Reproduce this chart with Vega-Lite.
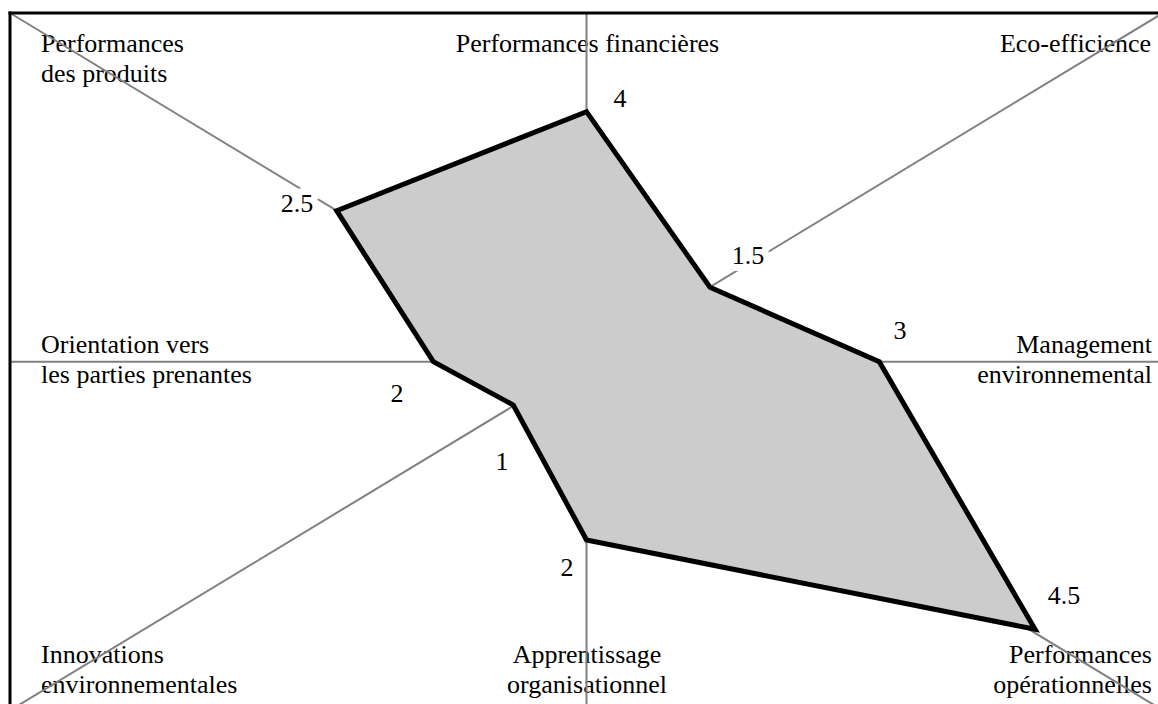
{
  "$schema": "https://vega.github.io/schema/vega-lite/v6.json",
  "width": 1148,
  "height": 691,
  "autosize": {"type": "none"},
  "padding": {"left": 10, "top": 13, "right": 0, "bottom": 0},
  "background": "white",
  "config": {"view": {"stroke": null}},
  "datasets": {
    "axes": [
      {"axe": "vertical", "x": 0, "y": 1, "x2": 0, "y2": -1},
      {"axe": "horizontal", "x": -1, "y": 0, "x2": 1, "y2": 0},
      {"axe": "diagonale 1", "x": -1, "y": 1, "x2": 1, "y2": -1},
      {"axe": "diagonale 2", "x": -1, "y": -1, "x2": 1, "y2": 1}
    ],
    "cadre": [
      {"bord": "haut", "x": -1, "y": 1, "x2": 1, "y2": 1},
      {"bord": "gauche", "x": -1, "y": 1, "x2": -1, "y2": -1}
    ],
    "scores": [
      {"ordre": 1, "axe": "Performances des produits", "valeur": "2.5", "x": -0.4333, "y": 0.4330, "lx": -0.5022, "ly": 0.4293},
      {"ordre": 2, "axe": "Performances financières", "valeur": "4", "x": 0, "y": 0.7170, "lx": 0.0581, "ly": 0.7304},
      {"ordre": 3, "axe": "Eco-efficience", "valeur": "1.5", "x": 0.2142, "y": 0.2134, "lx": 0.2801, "ly": 0.2802},
      {"ordre": 4, "axe": "Management environnemental", "valeur": "3", "x": 0.5079, "y": 0, "lx": 0.5438, "ly": 0.0651},
      {"ordre": 5, "axe": "Performances opérationnelles", "valeur": "4.5", "x": 0.7780, "y": -0.7674, "lx": 0.8283, "ly": -0.6950},
      {"ordre": 6, "axe": "Apprentissage organisationnel", "valeur": "2", "x": 0, "y": -0.5113, "lx": -0.0338, "ly": -0.6146},
      {"ordre": 7, "axe": "Innovations environnementales", "valeur": "1", "x": -0.1270, "y": -0.1242, "lx": -0.1466, "ly": -0.3106},
      {"ordre": 8, "axe": "Orientation vers les parties prenantes", "valeur": "2", "x": -0.2657, "y": 0, "lx": -0.3287, "ly": -0.1156}
    ],
    "libelles": [
      {"texte": "Performances\ndes produits", "colonne": "gauche", "x": -0.9462, "y": 0.8882},
      {"texte": "Performances financières", "colonne": "centre", "x": 0.0017, "y": 0.8882},
      {"texte": "Eco-efficience", "colonne": "droite", "x": 0.9792, "y": 0.8882},
      {"texte": "Orientation vers\nles parties prenantes", "colonne": "gauche", "x": -0.9462, "y": 0.0249},
      {"texte": "Management\nenvironnemental", "colonne": "droite", "x": 0.9809, "y": 0.0249},
      {"texte": "Innovations\nenvironnementales", "colonne": "gauche", "x": -0.9462, "y": -0.8641},
      {"texte": "Apprentissage\norganisationnel", "colonne": "centre", "x": 0.0009, "y": -0.8641},
      {"texte": "Performances\nopérationnelles", "colonne": "droite", "x": 0.9809, "y": -0.8641}
    ]
  },
  "encoding": {
    "x": {"type": "quantitative", "scale": {"domain": [-1, 0.99133], "nice": false, "zero": false}, "axis": null},
    "y": {"type": "quantitative", "scale": {"domain": [-0.98165, 1], "nice": false, "zero": false}, "axis": null}
  },
  "layer": [
    {
      "data": {"name": "libelles"},
      "transform": [{"filter": "datum.colonne === 'gauche'"}],
      "mark": {"type": "text", "align": "left", "baseline": "alphabetic", "font": "Liberation Serif", "fontSize": 26, "lineHeight": 30, "lineBreak": "\n", "color": "black"},
      "encoding": {"x": {"field": "x", "type": "quantitative"}, "y": {"field": "y", "type": "quantitative"}, "text": {"field": "texte"}}
    },
    {
      "data": {"name": "libelles"},
      "transform": [{"filter": "datum.colonne === 'centre'"}],
      "mark": {"type": "text", "align": "center", "baseline": "alphabetic", "font": "Liberation Serif", "fontSize": 26, "lineHeight": 30, "lineBreak": "\n", "color": "black"},
      "encoding": {"x": {"field": "x", "type": "quantitative"}, "y": {"field": "y", "type": "quantitative"}, "text": {"field": "texte"}}
    },
    {
      "data": {"name": "libelles"},
      "transform": [{"filter": "datum.colonne === 'droite'"}],
      "mark": {"type": "text", "align": "right", "baseline": "alphabetic", "font": "Liberation Serif", "fontSize": 26, "lineHeight": 30, "lineBreak": "\n", "color": "black"},
      "encoding": {"x": {"field": "x", "type": "quantitative"}, "y": {"field": "y", "type": "quantitative"}, "text": {"field": "texte"}}
    },
    {
      "data": {"name": "axes"},
      "mark": {"type": "rule", "color": "#808080", "strokeWidth": 2},
      "encoding": {
        "x": {"field": "x", "type": "quantitative"},
        "y": {"field": "y", "type": "quantitative"},
        "x2": {"field": "x2"},
        "y2": {"field": "y2"}
      }
    },
    {
      "data": {"name": "cadre"},
      "mark": {"type": "rule", "color": "black", "strokeWidth": 3, "strokeCap": "square"},
      "encoding": {
        "x": {"field": "x", "type": "quantitative"},
        "y": {"field": "y", "type": "quantitative"},
        "x2": {"field": "x2"},
        "y2": {"field": "y2"}
      }
    },
    {
      "data": {"name": "scores"},
      "mark": {"type": "line", "interpolate": "linear-closed", "fill": "#cccccc", "stroke": "black", "strokeWidth": 5, "strokeJoin": "miter"},
      "encoding": {
        "x": {"field": "x", "type": "quantitative"},
        "y": {"field": "y", "type": "quantitative"},
        "order": {"field": "ordre", "type": "quantitative"}
      }
    },
    {
      "data": {"name": "scores"},
      "mark": {"type": "text", "align": "center", "baseline": "alphabetic", "font": "Liberation Serif", "fontSize": 26, "fill": "white", "stroke": "white", "strokeWidth": 14, "strokeJoin": "round"},
      "encoding": {"x": {"field": "lx", "type": "quantitative"}, "y": {"field": "ly", "type": "quantitative"}, "text": {"field": "valeur"}}
    },
    {
      "data": {"name": "scores"},
      "mark": {"type": "text", "align": "center", "baseline": "alphabetic", "font": "Liberation Serif", "fontSize": 26, "color": "black"},
      "encoding": {"x": {"field": "lx", "type": "quantitative"}, "y": {"field": "ly", "type": "quantitative"}, "text": {"field": "valeur"}}
    }
  ]
}
